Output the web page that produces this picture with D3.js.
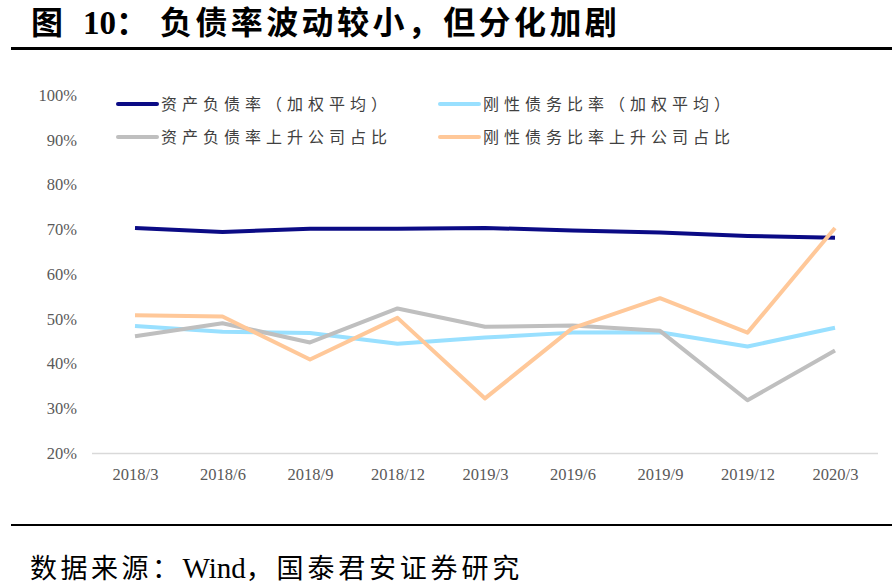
<!DOCTYPE html>
<html>
<head>
<meta charset="utf-8">
<script src="https://cdn.jsdelivr.net/npm/d3@7"></script>
<style>
  body { margin: 0; background: #fff; }
  svg { display: block; }
</style>
</head>
<body>
<svg id="chart"></svg>
<script>
const width = 892;
const height = 583;

// quarters on the x axis
const periods = ['2018/3', '2018/6', '2018/9', '2018/12', '2019/3', '2019/6', '2019/9', '2019/12', '2020/3'];
const yTicks = [20, 30, 40, 50, 60, 70, 80, 90, 100];

// values in percent
const debtRatioAvg = [70.3, 69.4, 70.1, 70.1, 70.3, 69.7, 69.3, 68.5, 68.1];
const rigidDebtAvg = [48.4, 47.1, 46.8, 44.4, 45.8, 46.9, 47.0, 43.8, 48.0];
const debtRatioUpShare = [46.1, 49.0, 44.7, 52.3, 48.2, 48.5, 47.3, 31.8, 42.9];
const rigidDebtUpShare = [50.8, 50.5, 40.9, 50.2, 32.2, 47.9, 54.6, 46.9, 70.3];

const seriesNames = ['资产负债率（加权平均）', '刚性债务比率（加权平均）', '资产负债率上升公司占比', '刚性债务比率上升公司占比'];
const seriesColors = ['#0b0b85', '#99e0ff', '#bfbfbf', '#ffc899'];

const series = [
  { name: seriesNames[0], color: seriesColors[0], values: debtRatioAvg },
  { name: seriesNames[1], color: seriesColors[1], values: rigidDebtAvg },
  { name: seriesNames[2], color: seriesColors[2], values: debtRatioUpShare },
  { name: seriesNames[3], color: seriesColors[3], values: rigidDebtUpShare }
];

const cjk = '"Noto Sans CJK SC", sans-serif';
const serif = '"Liberation Serif", serif';

const svg = d3.select('#chart')
  .attr('width', width)
  .attr('height', height);

svg.append('rect').attr('width', width).attr('height', height).attr('fill', '#fff');

// title, built from pieces so the number can be in a serif face
const title = svg.append('text')
  .attr('y', 34)
  .attr('font-size', 32)
  .attr('font-weight', 'bold')
  .attr('fill', '#000');
title.append('tspan').attr('x', 31).attr('font-family', cjk).text('图');
title.append('tspan').attr('x', 83).attr('font-family', serif).attr('font-size', 33).text('10');
title.append('tspan').attr('font-family', cjk).text('：');
title.append('tspan').attr('x', 160).attr('font-family', cjk).attr('letter-spacing', 3.4)
  .text('负债率波动较小，但分化加剧');

svg.append('line')
  .attr('x1', 11).attr('x2', width)
  .attr('y1', 48.5).attr('y2', 48.5)
  .attr('stroke', '#000').attr('stroke-width', 3);

svg.append('line')
  .attr('x1', 11).attr('x2', width)
  .attr('y1', 525).attr('y2', 525)
  .attr('stroke', '#000').attr('stroke-width', 2);

const source = svg.append('text')
  .attr('x', 30)
  .attr('y', 578)
  .attr('font-size', 27)
  .attr('fill', '#000');
source.append('tspan').attr('font-family', cjk).attr('letter-spacing', 3.5).text('数据来源：');
source.append('tspan').attr('font-family', serif).attr('font-size', 29).text('Wind');
source.append('tspan').attr('font-family', cjk).attr('letter-spacing', 3.8).text('，国泰君安证券研究');

// scales
const x = d3.scalePoint()
  .domain(periods)
  .range([135, 835]);

const y = d3.scaleLinear()
  .domain([20, 100])
  .range([453, 95]);

// y axis labels (no axis line)
const yAxis = svg.append('g')
  .attr('transform', 'translate(77,0)')
  .call(d3.axisLeft(y).tickValues(yTicks).tickSize(0).tickPadding(0).tickFormat(d => d + '%'));
yAxis.select('.domain').remove();
yAxis.selectAll('text')
  .attr('font-family', serif)
  .attr('font-size', 16.5)
  .attr('fill', '#595959');

// x axis
const xAxis = svg.append('g')
  .attr('transform', 'translate(0,453)')
  .call(d3.axisBottom(x).tickSize(0).tickPadding(15));
xAxis.select('.domain')
  .attr('d', 'M92,0.5H878')
  .attr('stroke', '#d9d9d9')
  .attr('stroke-width', 1.5);
xAxis.selectAll('text')
  .attr('font-family', serif)
  .attr('font-size', 16.5)
  .attr('fill', '#595959');

// lines
const line = d3.line()
  .x((d, i) => x(periods[i]))
  .y(d => y(d));

svg.append('g')
  .selectAll('path')
  .data(series)
  .join('path')
  .attr('d', d => line(d.values))
  .attr('fill', 'none')
  .attr('stroke', d => d.color)
  .attr('stroke-width', 4)
  .attr('stroke-linejoin', 'round');

// legend, two columns by two rows
const legend = svg.append('g')
  .selectAll('g')
  .data(series)
  .join('g')
  .attr('transform', (d, i) => `translate(${i % 2 === 0 ? 118 : 440},${i < 2 ? 104 : 137})`);

legend.append('line')
  .attr('x1', 0).attr('x2', 39)
  .attr('stroke', d => d.color)
  .attr('stroke-width', 4)
  .attr('stroke-linecap', 'round');

legend.append('text')
  .attr('x', 43)
  .attr('y', 6)
  .attr('font-family', cjk)
  .attr('font-size', 16)
  .attr('letter-spacing', 5)
  .attr('fill', '#404040')
  .text(d => d.name);
</script>
</body>
</html>
